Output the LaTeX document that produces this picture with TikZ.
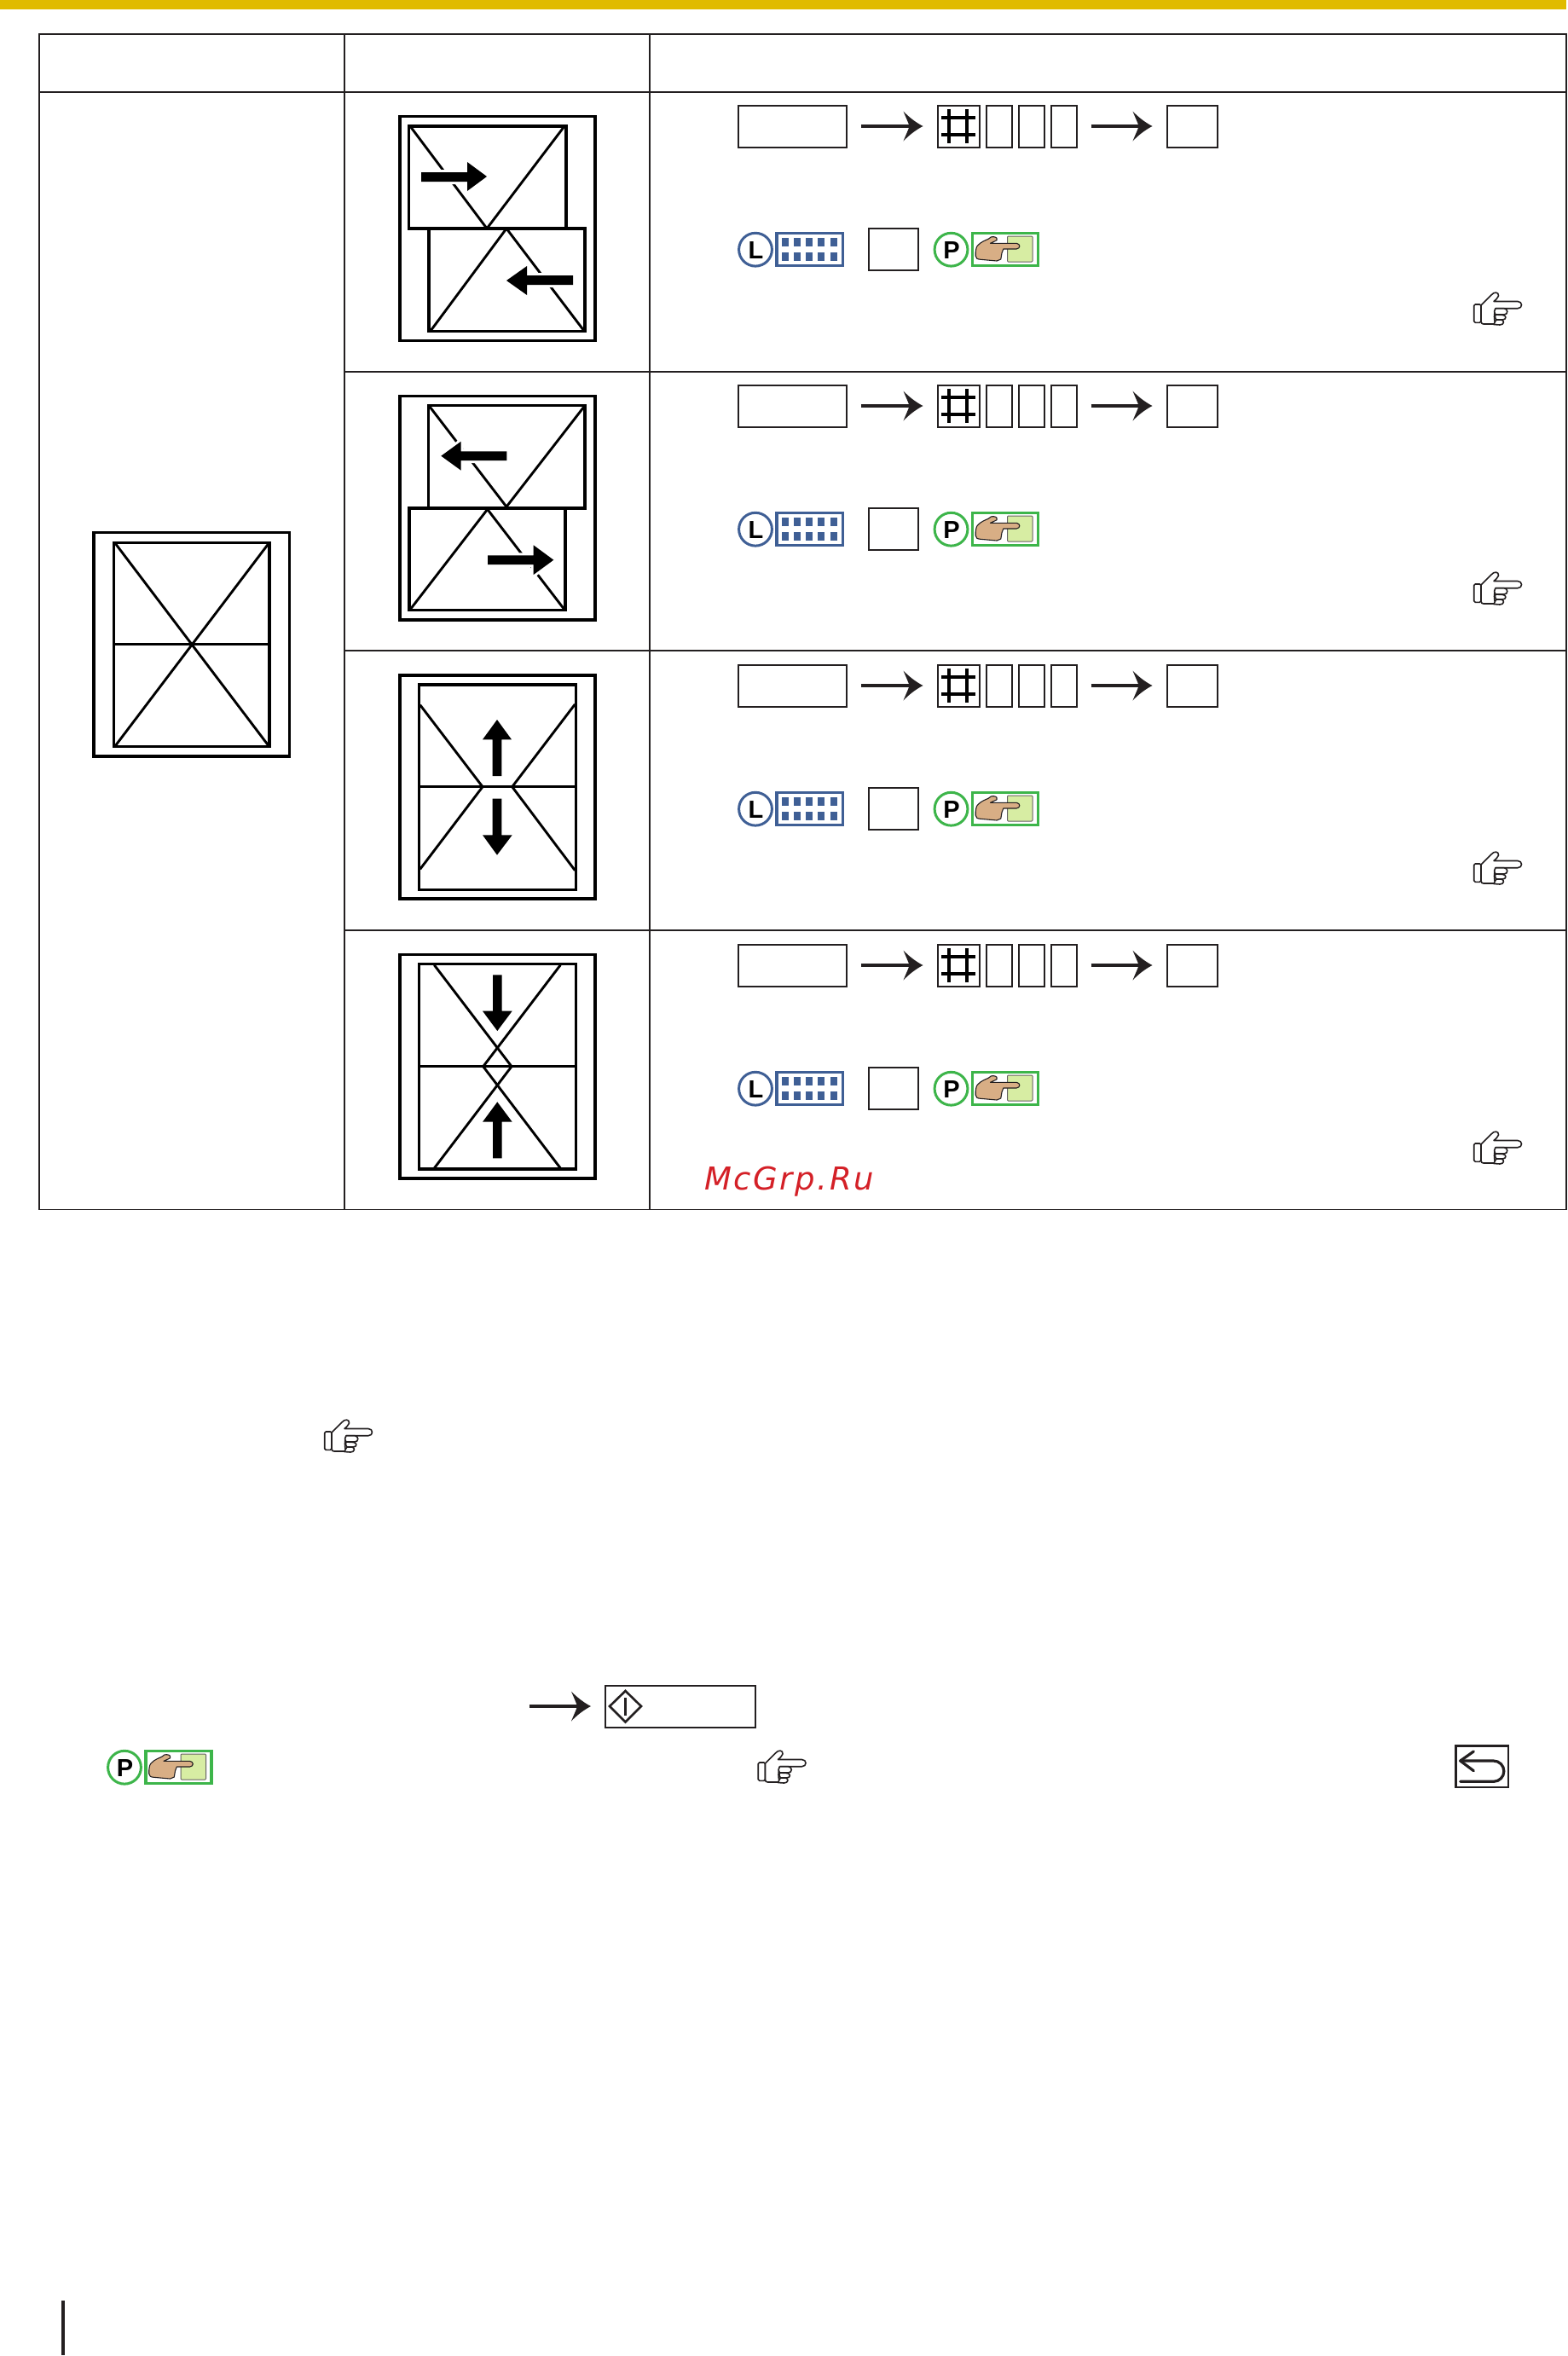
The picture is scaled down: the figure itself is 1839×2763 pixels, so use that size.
\documentclass[tikz,border=0pt]{standalone}
\usepackage{fontspec}
\setmainfont{Liberation Sans}
\newfontfamily\wmfont[LetterSpace=7]{DejaVu Sans}
\usetikzlibrary{arrows.meta}
\definecolor{ink}{HTML}{231F20}
\definecolor{band}{HTML}{E0BB00}
\definecolor{keyblue}{HTML}{3F5F95}
\definecolor{keygreen}{HTML}{3DB54A}
\definecolor{padgreen}{HTML}{D7EDA3}
\definecolor{skin}{HTML}{D8AE85}
\definecolor{wmred}{HTML}{D42027}
\pgfdeclarearrow{
  name=Swoop,
  setup code={
    \pgfarrowssettipend{0pt}
    \pgfarrowssetlineend{-14pt}
    \pgfarrowssetvisualbackend{-16pt}
    \pgfarrowssetbackend{-23pt}
    \pgfarrowsupperhullpoint{-23pt}{17.5pt}
    \pgfarrowsupperhullpoint{0pt}{0pt}
  },
  drawing code={
    \pgfpathmoveto{\pgfpoint{0pt}{0pt}}
    \pgfpathcurveto{\pgfpoint{-8pt}{4pt}}{\pgfpoint{-17pt}{11pt}}{\pgfpoint{-23pt}{17.5pt}}
    \pgfpathcurveto{\pgfpoint{-20pt}{10pt}}{\pgfpoint{-17pt}{4pt}}{\pgfpoint{-16pt}{0pt}}
    \pgfpathcurveto{\pgfpoint{-17pt}{-4pt}}{\pgfpoint{-20pt}{-10pt}}{\pgfpoint{-23pt}{-17.5pt}}
    \pgfpathcurveto{\pgfpoint{-17pt}{-11pt}}{\pgfpoint{-8pt}{-4pt}}{\pgfpoint{0pt}{0pt}}
    \pgfpathclose
    \pgfusepathqfill
  }
}
\tikzset{
  gridline/.style={draw=ink,line width=1.9pt,line cap=rect},
  btn/.style={draw=ink,line width=2pt,rectangle,inner sep=0pt,outer sep=0pt,minimum height=49pt},
  flowarrow/.style={ink,line width=4pt,-{Swoop}},
  pageouter/.style={draw=black,line width=3.2pt},
  pageinner/.style={draw=black,line width=3.6pt},
  foldline/.style={draw=black,line width=2.9pt},
  blockarrow/.style={fill=black,preaction={draw=white,line width=6pt}},
  letter/.style={font=\bfseries\fontsize{29pt}{29pt}\selectfont,inner sep=0pt,anchor=base,text=black},
}
% small outlined pointing hand; #1,#2 = origin
\newcommand{\refhand}[2]{%
  \begin{scope}[shift={(#1+2,#2)},draw=ink,line width=1.6pt,line join=round,fill=white]
    \draw[fill=white,rounded corners=1.5pt] (36.7,37) rectangle (45,58.3);
    \draw[fill=white] (45,38) -- (50,33) -- (57,26) .. controls (60,22) and (66,22) .. (65.5,27)
      .. controls (65,30) and (62,31) .. (60,33.5) -- (88,33.5)
      .. controls (94,33.5) and (94,41.7) .. (88,41.7) -- (62,41.7)
      .. controls (60,47) and (60,56) .. (62,60) -- (48,60) .. controls (46,60) and (45,59) .. (45,57) -- cycle;
    \draw[fill=white] (62,41.7) -- (72,41.7) .. controls (77,42) and (77,49) .. (72,49) -- (62,49) .. controls (60,47) and (60,44) .. (62,41.7);
    \draw[fill=white] (62,49) -- (71,49.5) .. controls (75,50) and (75,55) .. (70,55) -- (63,55) .. controls (61,53) and (61,51) .. (62,49);
    \draw[fill=white] (63,55) -- (69,55) .. controls (73,56) and (72,61) .. (67,61) -- (60,60.5) .. controls (61,58) and (62,56) .. (63,55);
  \end{scope}%
}
% circled P with green panel; #1,#2 = shift from the first table row
\newcommand{\panelkey}[2]{%
  \begin{scope}[shift={(#1,#2)}]
    \draw[keygreen,line width=3pt] (1115.5,292.7) circle (19.4);
    \node[letter] at (1116,303.5) {P};
    \draw[keygreen,line width=3.2pt] (1140.5,273.5) rectangle (1217.5,311.5);
    \draw[fill=padgreen,draw=ink!70,line width=1pt,rounded corners=1pt] (1181.5,277) rectangle (1211,307);
    \begin{scope}[shift={(1139,272)}]
      \draw[fill=skin,draw=ink,line width=1.1pt,line join=round]
        (5.2,28) .. controls (5,22) and (6,18) .. (7.2,16.3) .. controls (12,11) and (17,10) .. (20.6,8)
        .. controls (22,6) and (25,5) .. (26.3,5.7) .. controls (30,6) and (31,8) .. (30.1,9.7)
        .. controls (28,11) and (25,12) .. (22.5,13.3) -- (53.1,13.3)
        .. controls (58,14) and (58,19.5) .. (53.1,20) -- (37.8,20)
        -- (36,24.7) -- (34.8,32) -- (30.1,34) -- (11,32.3) .. controls (7,32) and (5.5,31) .. (5.2,28) -- cycle;
    \end{scope}
  \end{scope}%
}
\begin{document}
\begin{tikzpicture}[x=1pt,y=-1pt]
\useasboundingbox (0,0) rectangle (1839,2763);
\fill[white] (0,0) rectangle (1839,2763);
% top band and margin bar
\fill[band] (0,0) rectangle (1837,11);
\fill[ink] (72,2698) rectangle (76,2762);
% table
\draw[gridline] (46,40) rectangle (1837,1418.5);
\draw[gridline] (46,107.7) -- (1837,107.7);
\draw[gridline] (404,40) -- (404,1418.5);
\draw[gridline] (762,40) -- (762,1418.5);
\draw[gridline] (404,435.7) -- (1837,435.7);
\draw[gridline] (404,763.3) -- (1837,763.3);
\draw[gridline] (404,1091) -- (1837,1091);
% left page icon
\draw[pageouter] (110,624.5) rectangle (339.5,887);
\draw[pageinner] (133.5,636.5) rectangle (316,875.5);
\draw[foldline] (134,755.7) -- (316,755.7);
\draw[foldline] (135,637) -- (315.3,875);
\draw[foldline] (315.3,637) -- (135,875);
% row 1 icon
\draw[pageouter] (469,136.5) rectangle (698,399.5);
\draw[foldline] (481,148) -- (571,268);
\draw[foldline] (662,148) -- (571,268);
\draw[foldline] (594,268) -- (505,388);
\draw[foldline] (594,268) -- (685,388);
\draw[pageinner] (479.5,148) rectangle (664,268);
\draw[pageinner] (503,268) rectangle (686,388.5);
\fill[blockarrow] (494,202) -- (548,202) -- (548,190) -- (571,207) -- (548,224) -- (548,213) -- (494,213) -- cycle;
\fill[blockarrow] (672,323) -- (618,323) -- (618,312) -- (594,329) -- (618,346) -- (618,334) -- (672,334) -- cycle;
% row 2 icon
\draw[pageouter] (469,464.5) rectangle (698,727);
\draw[foldline] (503.3,476) -- (594,594.3);
\draw[foldline] (685.7,476) -- (594,594.3);
\draw[foldline] (571.7,597.3) -- (480.7,715.3);
\draw[foldline] (571.7,597.3) -- (662.3,715.3);
\draw[pageinner] (502.5,475.5) rectangle (686,596);
\draw[pageinner] (480,596) rectangle (663,715.5);
\fill[blockarrow] (594.3,529.3) -- (540.7,529.3) -- (540.7,517.7) -- (517.3,534.7) -- (540.7,551.7) -- (540.7,540) -- (594.3,540) -- cycle;
\fill[blockarrow] (572,651.3) -- (625.7,651.3) -- (625.7,639.3) -- (649.3,656.7) -- (625.7,674) -- (625.7,662) -- (572,662) -- cycle;
% row 3 icon
\draw[pageouter] (469,792) rectangle (698,1054);
\draw[foldline] (492.7,826.7) -- (566,922.7);
\draw[foldline] (674.3,826) -- (600.7,922.7);
\draw[foldline] (566,922.7) -- (492.7,1019.3);
\draw[foldline] (600.7,922.7) -- (674.3,1020.7);
\draw[foldline] (491,922.7) -- (676,922.7);
\draw[pageinner] (491.5,803) rectangle (675.5,1043.5);
\fill[blockarrow] (583,844) -- (600,867.3) -- (588.3,867.3) -- (588.3,910) -- (577.7,910) -- (577.7,867.3) -- (566,867.3) -- cycle;
\fill[blockarrow] (583,1002.7) -- (600.7,979.3) -- (588.3,979.3) -- (588.3,936.7) -- (577.7,936.7) -- (577.7,979.3) -- (566,979.3) -- cycle;
% row 4 icon
\draw[pageouter] (469,1119.5) rectangle (698,1382);
\draw[foldline] (509.3,1131.7) -- (600,1250.7);
\draw[foldline] (657.3,1131.7) -- (566.7,1250.7);
\draw[foldline] (566.7,1250.7) -- (657.3,1370);
\draw[foldline] (600,1250.7) -- (509.3,1370);
\draw[foldline] (491,1250.7) -- (676,1250.7);
\draw[pageinner] (491.5,1130.5) rectangle (675.5,1371);
\fill[blockarrow] (583.3,1209) -- (600.7,1185.7) -- (588.7,1185.7) -- (588.7,1143.3) -- (578,1143.3) -- (578,1185.7) -- (566,1185.7) -- cycle;
\fill[blockarrow] (583.3,1292.3) -- (600.7,1315.7) -- (588.7,1315.7) -- (588.7,1358.3) -- (578,1358.3) -- (578,1315.7) -- (566,1315.7) -- cycle;
% button rows
\foreach \r in {0,1,2,3}{
  \begin{scope}[shift={(0,\r*328)}]
    \node[btn,minimum width=126.6pt] (mode\r) at (929.5,148) {};
    \node[btn,minimum width=49pt] (hash\r) at (1124,148) {};
    \node[btn,minimum width=30pt] (dg\r a) at (1172,148) {};
    \node[btn,minimum width=30pt] (dg\r b) at (1210,148) {};
    \node[btn,minimum width=30pt] (dg\r c) at (1248,148) {};
    \node[btn,minimum width=59pt] (set\r) at (1398.5,148) {};
    \draw[flowarrow,shorten <=17pt,shorten >=17pt] (mode\r.east) -- (hash\r.west);
    \draw[flowarrow,shorten <=16.5pt,shorten >=17.5pt] (dg\r c.east) -- (set\r.west);
    \draw[black,line width=4.5pt] (1113,128) -- (1113,168);
    \draw[black,line width=4.5pt] (1134,128) -- (1134,168);
    \draw[black,line width=4.5pt] (1104,138) -- (1144,138);
    \draw[black,line width=4.5pt] (1104,158) -- (1144,158);
    % line key
    \draw[keyblue,line width=3pt] (886,292.7) circle (19.4);
    \node[letter] at (886.5,303) {L};
    \draw[keyblue,line width=3.2pt] (911,273.5) rectangle (988.5,311.5);
    \foreach \x in {921,935,949,963,978}{
      \fill[keyblue] (\x-3.8,279) rectangle (\x+3.8,289);
      \fill[keyblue] (\x-3.8,296) rectangle (\x+3.8,306);
    }
    \node[btn,minimum width=58pt] (entry\r) at (1047.5,292) {};
    \panelkey{0}{0}
    \refhand{1690}{320}
  \end{scope}
}
% below the table
\refhand{342}{1642}
\coordinate (startfrom) at (621,2001);
\node[btn,minimum width=176pt] (startkey) at (797.5,2001) {};
\draw[flowarrow,shorten >=16.5pt] (startfrom) -- (startkey.west);
\draw[ink,line width=2.6pt,line join=miter] (733.5,1983) -- (752,2001) -- (733.5,2019.5) -- (715,2001) -- cycle;
\draw[ink,line width=3pt] (733.5,1991) -- (733.5,2012);
\panelkey{-969.5}{1780}
\refhand{850.5}{2030}
% return key
\draw[ink,line width=2.2pt] (1707.5,2047.5) rectangle (1769,2096);
\draw[ink,line width=3.2pt,line cap=round,line join=round] (1728.3,2054) -- (1712.7,2065) -- (1728.3,2076.7);
\draw[ink,line width=3.2pt,line cap=round] (1712.7,2065) -- (1751.7,2065) arc[start angle=-90,end angle=90,x radius=12.15pt,y radius=-12.15pt] -- (1712.7,2089.3);
% watermark
\node[anchor=base west,inner sep=0pt,text=wmred,font=\wmfont\itshape\fontsize{37pt}{37pt}\selectfont] (wm) at (826,1395) {McGrp.Ru};
\end{tikzpicture}
\end{document}
